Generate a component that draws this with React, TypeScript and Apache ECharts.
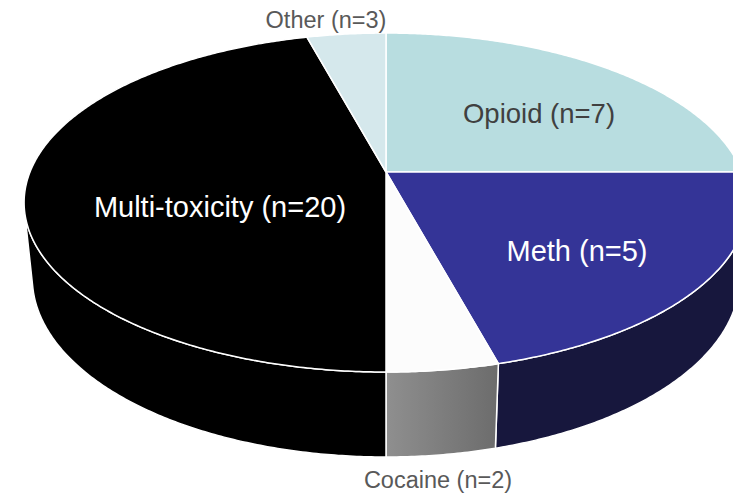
import React, { useEffect, useRef } from "react";
import * as echarts from "echarts";

// ---- data ----
const categories = ["Opioid", "Meth", "Cocaine", "Multi-toxicity", "Other"];
const counts = [7, 5, 2, 20, 3];
// slice share (%) as drawn in the reference
const shares = [25, 20.8, 4.2, 45.8, 4.2];

// ---- styles ----
const topColors = ["#b8dde0", "#343497", "#fcfcfc", "#000000", "#d5e8ec"];
const sideColors: any[] = [
  "#8aa6a8",
  "#17173d",
  new echarts.graphic.LinearGradient(0, 0, 1, 0, [
    { offset: 0, color: "#8f8f8f" },
    { offset: 1, color: "#6c6c6c" },
  ]),
  "#000000",
  "#a0aeb1",
];
const labelColors = ["#404040", "#ffffff", "#595959", "#ffffff", "#595959"];
const labelSizes = [27.5, 29, 23.5, 29, 23.5];
const labelPos: [number, number][] = [
  [539, 113],
  [577, 251],
  [438, 480],
  [220, 207],
  [326, 20],
];

// ---- 3D projection parameters ----
const CX = 386;
const CY = 172;
const F = 1755;
const D = 4.93;
const SIN = 0.4607;
const COS = Math.sqrt(1 - SIN * SIN);
const H = 0.2409;

function proj(phiDeg: number, bottom: boolean): [number, number] {
  const p = (phiDeg * Math.PI) / 180;
  const u = Math.sin(p);
  const v = Math.cos(p);
  const hh = bottom ? H : 0;
  const z = D + v * COS + hh * SIN;
  return [CX + (F * u) / z, CY - (F * (v * SIN - hh * COS)) / z];
}

function arc(a: number, b: number, bottom: boolean): [number, number][] {
  const n = Math.max(2, Math.ceil(Math.abs(b - a) / 0.5));
  const pts: [number, number][] = [];
  for (let k = 0; k <= n; k++) pts.push(proj(a + ((b - a) * k) / n, bottom));
  return pts;
}

const total = shares.reduce((s, x) => s + x, 0);
const spans: [number, number][] = [];
{
  let acc = 0;
  for (const s of shares) {
    const a0 = (acc / total) * 360;
    acc += s;
    spans.push([a0, (acc / total) * 360]);
  }
}
// visible outer wall range (front facing)
const visLo = (Math.acos(-1 / (D * COS)) * 180) / Math.PI;
const visHi = 360 - visLo;

export default function App() {
  const ref = useRef<HTMLDivElement>(null);
  useEffect(() => {
    document.body.style.margin = "0";
    const chart = echarts.init(ref.current!, null, { renderer: "svg" });
    const data = shares.map((s, i) => ({ name: categories[i], value: s }));
    chart.setOption({
      animation: false,
      backgroundColor: "#ffffff",
      series: [
        {
          type: "custom",
          coordinateSystem: "none",
          silent: true,
          z: 1,
          data,
          renderItem: (params: any) => {
            const i = params.dataIndex;
            const [a0, a1] = spans[i];
            const lo = Math.max(a0, visLo);
            const hi = Math.min(a1, visHi);
            if (hi <= lo) return { type: "group", children: [] };
            const pts = arc(lo, hi, false).concat(arc(hi, lo, true));
            return {
              type: "polygon",
              shape: { points: pts },
              style: { fill: sideColors[i], stroke: "#ffffff", lineWidth: 1.5, lineJoin: "round" },
            };
          },
        },
        {
          type: "custom",
          coordinateSystem: "none",
          silent: true,
          z: 2,
          data,
          renderItem: (params: any) => {
            const i = params.dataIndex;
            const [a0, a1] = spans[i];
            const pts = [[CX, CY] as [number, number]].concat(arc(a0, a1, false));
            return {
              type: "polygon",
              shape: { points: pts },
              style: { fill: topColors[i], stroke: "#ffffff", lineWidth: 1.5, lineJoin: "round" },
            };
          },
        },
      ],
      graphic: categories.map((c, i) => ({
        type: "text",
        x: labelPos[i][0],
        y: labelPos[i][1],
        z: 10,
        style: {
          text: `${c} (n=${counts[i]})`,
          fill: labelColors[i],
          font: `${labelSizes[i]}px "Liberation Sans", Arial, sans-serif`,
          textAlign: "center",
          textVerticalAlign: "middle",
        },
      })),
    });
    return () => chart.dispose();
  }, []);
  return <div ref={ref} style={{ width: 733, height: 494 }} />;
}
